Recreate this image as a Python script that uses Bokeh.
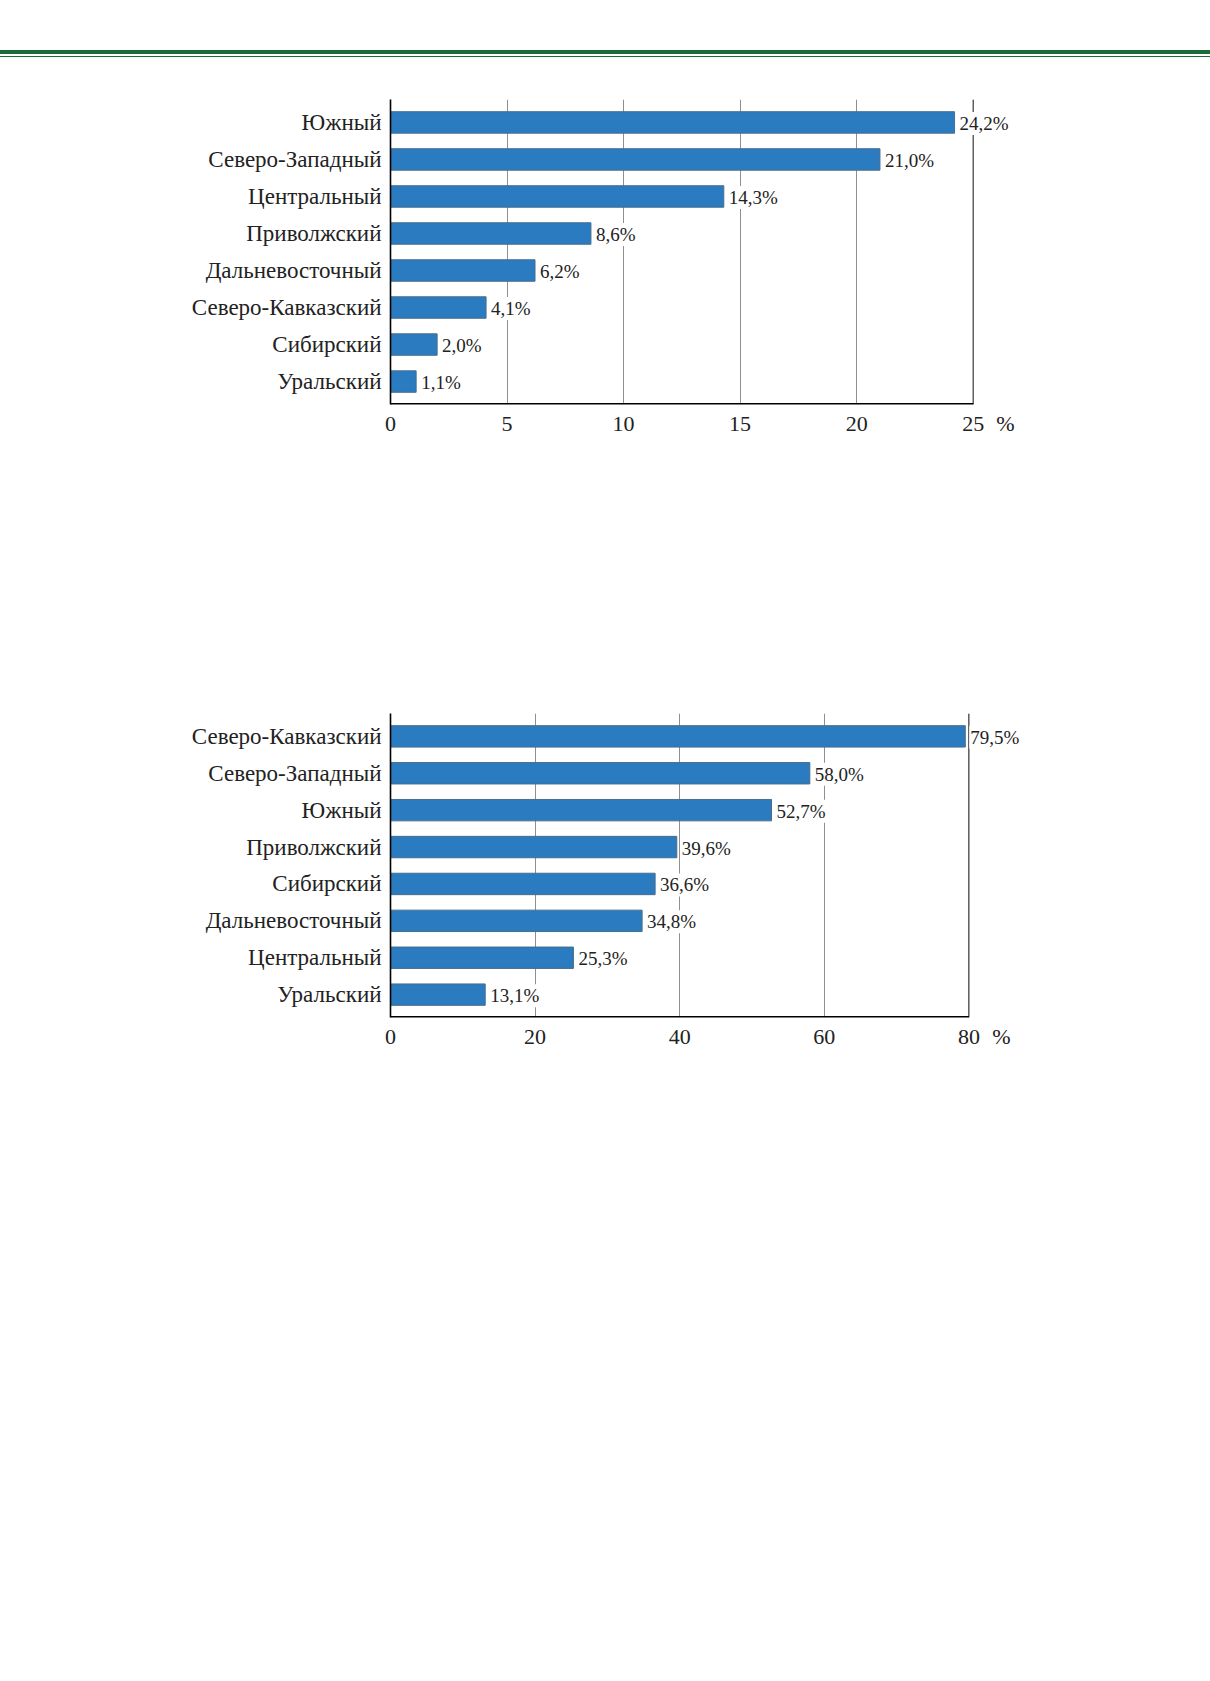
from bokeh.plotting import figure
from bokeh.models import (ColumnDataSource, Range1d, FixedTicker, Span, Div)
from bokeh.layouts import column
from bokeh.embed import file_html
from bokeh.resources import INLINE
from bokeh.core.properties import value

# ---------------- data ----------------
regions1 = ["Южный", "Северо-Западный", "Центральный", "Приволжский",
            "Дальневосточный", "Северо-Кавказский", "Сибирский", "Уральский"]
values1 = [24.2, 21.0, 14.3, 8.6, 6.2, 4.1, 2.0, 1.1]
xticks1 = [0, 5, 10, 15, 20, 25]

regions2 = ["Северо-Кавказский", "Северо-Западный", "Южный", "Приволжский",
            "Сибирский", "Дальневосточный", "Центральный", "Уральский"]
values2 = [79.5, 58.0, 52.7, 39.6, 36.6, 34.8, 25.3, 13.1]
xticks2 = [0, 20, 40, 60, 80]

unit_label = "%"

FONT = "Liberation Serif"
BAR_FILL = "#2a7bbf"
BAR_LINE = "#4a6d8c"
GREEN = "#1c6c3a"

PAGE_W = 1210
LEFT = 390          # frame left (y axis position)
FRAME_W = 650       # frame width (extends past the last tick to hold value labels)


def make_rule():
    html = ('<div style="width:%dpx;height:68px;position:relative;">'
            '<div style="position:absolute;left:0;top:50px;width:100%%;height:4px;background:%s;"></div>'
            '<div style="position:absolute;left:0;top:55.7px;width:100%%;height:1.3px;background:%s;"></div>'
            '</div>') % (PAGE_W, GREEN, GREEN)
    return Div(text=html, width=PAGE_W, height=68, margin=0)


def make_chart(regions, values, xticks, last_px, unit_px, height, top, bottom):
    n = len(regions)
    idx = list(range(n))
    labels = [("%.1f" % v).replace(".", ",") + "%" for v in values]
    src = ColumnDataSource(dict(y=idx, v=values, lab=labels))
    xmax = xticks[-1]
    ppu = (last_px - LEFT) / xmax                 # pixels per unit
    xend = FRAME_W / ppu
    unit_pos = (unit_px - LEFT) / ppu
    ystart = n - 1 + 0.62
    p = figure(width=PAGE_W, height=height,
               x_range=Range1d(0, xend), y_range=Range1d(ystart, -0.62),
               output_backend="svg", toolbar_location=None, title=None,
               min_border_top=top, min_border_bottom=bottom,
               min_border_left=LEFT, min_border_right=PAGE_W - LEFT - FRAME_W,
               margin=0)
    p.outline_line_color = None
    p.background_fill_color = "white"
    p.border_fill_color = "white"

    # grid
    p.ygrid.visible = False
    p.xgrid.ticker = FixedTicker(ticks=xticks)
    p.xgrid.grid_line_color = "#8f8f8f"
    p.xgrid.grid_line_width = 1
    p.add_layout(Span(location=xmax, dimension="height", line_color="#555555",
                      line_width=1.3, level="underlay"))

    p.hbar(y="y", right="v", left=0, height=0.58, source=src,
           fill_color=BAR_FILL, line_color=BAR_LINE, line_width=1)
    p.text(x="v", y="y", text="lab", source=src, x_offset=4, y_offset=1,
           text_font=value(FONT), text_font_size="19px", text_color="#222222",
           text_baseline="middle", text_align="left",
           background_fill_color="white", padding=1)

    # bottom axis line only up to the last tick
    p.segment(x0=[0], x1=[xmax], y0=[ystart], y1=[ystart], line_color="black", line_width=3.2)

    # x axis
    xa = p.xaxis[0]
    xa.ticker = FixedTicker(ticks=xticks + [unit_pos])
    xa.major_label_overrides = {unit_pos: unit_label}
    xa.major_tick_line_color = None
    xa.minor_tick_line_color = None
    xa.axis_line_color = None
    xa.major_label_text_font = FONT
    xa.major_label_text_font_size = "22px"
    xa.major_label_text_color = "#222222"
    xa.major_label_standoff = 0

    # y axis
    ya = p.yaxis[0]
    ya.ticker = FixedTicker(ticks=idx)
    ya.major_label_overrides = {i: r for i, r in zip(idx, regions)}
    ya.major_tick_line_color = None
    ya.minor_tick_line_color = None
    ya.axis_line_color = "black"
    ya.axis_line_width = 1.6
    ya.major_label_text_font = FONT
    ya.major_label_text_font_size = "23px"
    ya.major_label_text_color = "#222222"
    ya.major_label_standoff = 3
    return p


rule = make_rule()
p1 = make_chart(regions1, values1, xticks1, last_px=972.7, unit_px=1005,
                height=392, top=31, bottom=56)
p2 = make_chart(regions2, values2, xticks2, last_px=968.4, unit_px=1001,
                height=617, top=253, bottom=60)

layout = column(rule, p1, p2, spacing=0)
open("out.html", "w").write(file_html(layout, INLINE))
